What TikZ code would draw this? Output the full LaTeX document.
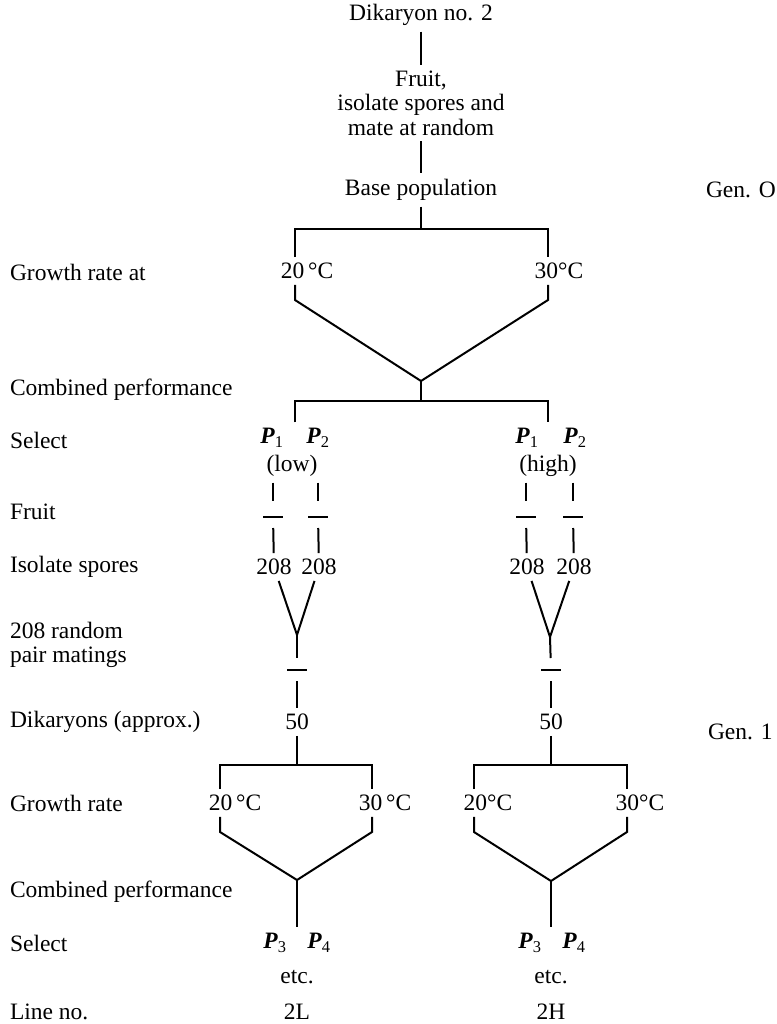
\documentclass[tikz,border=0pt]{standalone}
\usepackage{fontspec}
\setmainfont{Liberation Serif}
\usetikzlibrary{positioning}
\newcommand{\pp}[1]{\textbf{\textit{P}}\textsubscript{#1}}

\begin{document}
\begin{tikzpicture}[
    x=1pt, y=-1pt,
    line width=2pt,
    every node/.style={font=\fontsize{23.5}{24.5}\selectfont, inner sep=5pt},
    lbl/.style={anchor=west, align=left},
    fbar/.style={fill=black, minimum width=20pt, minimum height=2pt, inner sep=0pt},
    tofruit/.style={shorten >=14pt},
    fromfruit/.style={shorten <=9pt}
  ]
    \useasboundingbox (0,0) rectangle (776,1024);

    % Row labels
    \node[lbl] (r1) at (4,272) {Growth rate at};
    \node[lbl] (r2) at (4,390) {Combined performance};
    \node[lbl] (r3) at (4,440) {Select};
    \node[lbl] (r4) at (4,512) {Fruit};
    \node[lbl] (r5) at (4,567) {Isolate spores};
    \node[lbl] (r6) at (4,645) {208 random\\pair matings};
    \node[lbl] (r7) at (4,722) {Dikaryons (approx.)};
    \node[lbl] (r8) at (4,803) {Growth rate};
    \node[lbl] (r9) at (4,892) {Combined performance};
    \node[lbl] (r10) at (4,943) {Select};
    \node[lbl] (r11) at (4,1012) {Line no.};

    % Generation labels
    \node[lbl] (gen0) at (700,190) {Gen. O};
    \node[lbl] (gen1) at (702,732) {Gen. 1};

    % Base population
    \node (dik) at (421,15) {Dikaryon no. 2};
    \node[align=center] (fruit) at (421,103) {Fruit,\\isolate spores and\\mate at random};
    \node (base) at (421,190) {Base population};
    \draw (dik) -- (fruit);
    \draw (fruit) -- (base);

    % Generation 0 tests
    \coordinate (b0) at (421,229);
    \coordinate (b0l) at (295,229);
    \coordinate (b0r) at (548,229);
    \node (t20) at (307,271) {20\,°C};
    \node (t30) at (559,271) {30°C};
    \draw (base) -- (b0);
    \draw (b0l |- t20.north) |- (b0r) -- (b0r |- t30.north);
    \coordinate (k20) at (295,300);
    \coordinate (k30) at (548,300);
    \coordinate (m0) at (421,381);
    \draw (b0l |- t20.south) -- (k20) -- (m0) -- (k30) -- (b0r |- t30.south);

    % Selection
    \coordinate (b1) at (421,401);
    \coordinate (b1l) at (295,401);
    \coordinate (b1r) at (548,401);
    \node (p1l) at (272,438) {\pp1};
    \node (p2l) at (318,438) {\pp2};
    \node (p1r) at (527,438) {\pp1};
    \node (p2r) at (575,438) {\pp2};
    \node (low) at (292,466) {(low)};
    \node (high) at (548,466) {(high)};
    \draw (m0) -- (b1);
    \draw (b1l |- p1l.north) |- (b1r) -- (b1r |- p1r.north);

    % Fruit and isolate spores, low line
    \node[fbar] (fl1) at (273,517) {};
    \node[fbar] (fl2) at (318,517) {};
    \node (sl1) at (274,567) {208};
    \node (sl2) at (319,567) {208};
    \draw[tofruit] (fl1 |- low.south) -- (fl1);
    \draw[tofruit] (fl2 |- low.south) -- (fl2);
    \draw[fromfruit] (fl1) -- (sl1);
    \draw[fromfruit] (fl2) -- (sl2);

    % Fruit and isolate spores, high line
    \node[fbar] (fr1) at (526,517) {};
    \node[fbar] (fr2) at (573,517) {};
    \node (sr1) at (527,567) {208};
    \node (sr2) at (574,567) {208};
    \draw[tofruit] (fr1 |- high.south) -- (fr1);
    \draw[tofruit] (fr2 |- high.south) -- (fr2);
    \draw[fromfruit] (fr1) -- (sr1);
    \draw[fromfruit] (fr2) -- (sr2);

    % Pair matings
    \coordinate (yl) at (297,635);
    \coordinate (yr) at (550,637);
    \node[fbar] (fl3) at (297,670) {};
    \node[fbar] (fr3) at (551,670) {};
    \node (dl) at (297,722) {50};
    \node (dr) at (551,722) {50};
    \draw (sl1) -- (yl) -- (sl2);
    \draw (sr1) -- (yr) -- (sr2);
    \draw[shorten >=10pt] (yl) -- (fl3);
    \draw[shorten >=10pt] (yr) -- (fr3);
    \draw[fromfruit] (fl3) -- (dl);
    \draw[fromfruit] (fr3) -- (dr);

    % Generation 1 tests, low line
    \coordinate (b2l) at (220,765);
    \coordinate (b2r) at (372,765);
    \node (g20l) at (235,803) {20\,°C};
    \node (g30l) at (385,803) {30\,°C};
    \draw (dl) -- (dl |- b2l);
    \draw (b2l |- g20l.north) |- (b2r) -- (b2r |- g30l.north);
    \coordinate (k20l) at (220,832);
    \coordinate (k30l) at (372,832);
    \coordinate (ml) at (297,880);
    \draw (b2l |- g20l.south) -- (k20l) -- (ml) -- (k30l) -- (b2r |- g30l.south);

    % Generation 1 tests, high line
    \coordinate (b3l) at (474,765);
    \coordinate (b3r) at (627,765);
    \node (g20r) at (488,803) {20°C};
    \node (g30r) at (640,803) {30°C};
    \draw (dr) -- (dr |- b3l);
    \draw (b3l |- g20r.north) |- (b3r) -- (b3r |- g30r.north);
    \coordinate (k20r) at (474,832);
    \coordinate (k30r) at (627,832);
    \coordinate (mr) at (551,881);
    \draw (b3l |- g20r.south) -- (k20r) -- (mr) -- (k30r) -- (b3r |- g30r.south);

    % Second selection
    \node (p3l) at (275,943) {\pp3};
    \node (p4l) at (319,943) {\pp4};
    \node (p3r) at (530,943) {\pp3};
    \node (p4r) at (574,943) {\pp4};
    \draw (ml) -- (ml |- p3l.north);
    \draw (mr) -- (mr |- p3r.north);

    % Line numbers
    \node (etcl) at (297,977) {etc.};
    \node (etcr) at (551,977) {etc.};
    \node (linel) at (297,1012) {2L};
    \node (liner) at (551,1012) {2H};
  \end{tikzpicture}
\end{document}
